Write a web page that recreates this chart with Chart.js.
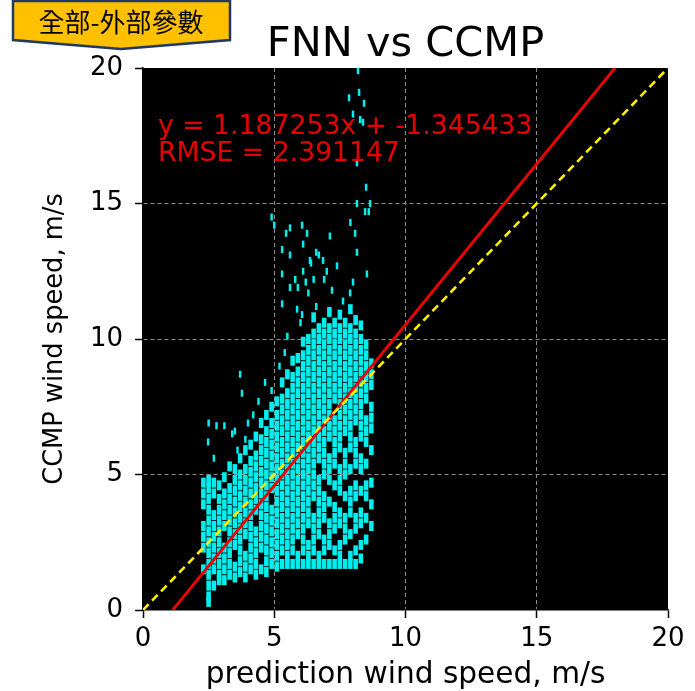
<!DOCTYPE html>
<html>
<head>
<meta charset="utf-8">
<script src="https://cdn.jsdelivr.net/npm/chart.js@4.4.1/dist/chart.umd.min.js"></script>
<style>
  body { margin: 0; background: #fff; }
  #wrap { width: 695px; height: 691px; }
</style>
</head>
<body>
<div id="wrap"><canvas id="scatter-chart" width="695" height="691"></canvas></div>
<script>
// prediction wind speed columns (m/s) and the CCMP values in the dense core of each column
const xCols = [2.3, 2.5, 2.7, 2.9, 3.1, 3.3, 3.5, 3.7, 3.9, 4.1, 4.3, 4.5, 4.7, 4.9, 5.1, 5.3, 5.5,
  5.7, 5.9, 6.1, 6.3, 6.5, 6.7, 6.9, 7.1, 7.3, 7.5, 7.7, 7.9, 8.1, 8.3, 8.5, 8.7];
const yCols = [
  [1.5,2.3,2.7,3.1,3.9,4.3,4.7],
  [0.3,0.5,0.9,1.3,1.7,2.1,2.5,2.9,3.3,3.7,4.1,4.5,4.8],
  [0.9,1.5,1.9,2.3,2.7,3.1,3.5,4.3,4.7],
  [1.1,1.3,1.7,2.1,2.5,2.9,3.3,3.7,4.1,4.6],
  [1.1,1.5,1.9,2.3,3.1,3.5,3.9,4.3,4.9],
  [1.3,1.7,2.1,2.5,2.9,3.3,3.7,4.1,4.5,5.3],
  [1.2,1.6,2.4,2.8,3.2,3.6,4.0,4.4,4.8,5.2],
  [1.4,1.8,2.2,2.6,3.0,3.4,3.8,4.2,4.6,5.0,5.6],
  [1.2,1.6,2.0,2.8,3.2,3.6,4.0,4.4,4.8,5.2,5.9],
  [1.5,1.9,2.3,2.7,3.1,3.5,3.9,4.3,4.7,5.1,5.5,6.1],
  [1.3,1.7,2.1,2.5,2.9,3.7,4.1,4.5,4.9,5.3,5.7,6.4],
  [1.5,2.3,2.7,3.1,3.5,3.9,4.3,4.7,5.1,5.5,5.9,6.3,6.9],
  [1.4,1.8,2.2,2.6,3.0,3.4,3.8,4.2,4.6,5.0,5.4,5.8,6.2,6.6,7.2],
  [1.7,2.1,2.5,2.9,3.3,3.7,4.5,4.9,5.3,5.7,6.1,6.5,6.9,7.5],
  [1.6,2.0,2.4,2.8,3.2,3.6,4.0,4.4,4.8,5.2,5.6,6.0,6.4,6.8,7.2,7.7],
  [1.7,2.2,2.6,3.0,3.4,3.8,4.2,4.6,5.0,5.4,5.8,6.2,6.6,7.0,7.4,7.8,8.4],
  [1.7,2.0,2.4,2.8,3.2,3.6,4.0,4.4,4.8,5.2,5.6,6.0,6.4,6.8,7.2,7.6,8.0,8.7],
  [1.7,2.2,2.6,3.0,3.4,3.8,4.2,4.6,5.0,5.4,5.8,6.2,6.6,7.0,7.4,7.8,8.2,8.6,9.2],
  [1.7,2.0,2.8,3.2,3.6,4.0,4.4,4.8,5.2,5.6,6.0,6.4,6.8,7.2,7.6,8.0,8.4,8.8,9.3],
  [1.7,2.2,2.6,3.0,3.4,3.8,4.2,4.6,5.0,5.4,5.8,6.2,6.6,7.0,7.4,7.8,8.2,8.6,9.0,9.4,9.9],
  [1.7,2.0,2.4,3.2,3.6,4.0,4.4,4.8,5.2,5.6,6.0,6.4,6.8,7.2,7.6,8.0,8.4,8.8,9.2,9.6,10.0],
  [1.7,2.2,2.6,3.0,3.4,4.2,4.6,5.0,5.4,5.8,6.2,6.6,7.0,7.4,7.8,8.2,8.6,9.0,9.4,9.8,10.2,10.8],
  [1.7,2.0,2.8,3.2,3.6,4.0,4.4,4.8,5.6,6.0,6.4,6.8,7.2,7.6,8.0,8.4,8.8,9.2,9.6,10.0,10.4],
  [1.7,2.2,2.6,3.4,3.8,4.2,5.0,5.4,5.8,6.2,6.6,7.0,7.4,7.8,8.2,8.6,9.0,9.4,9.8,10.2,10.6],
  [1.7,2.4,2.8,3.2,4.0,4.8,5.2,5.6,6.4,6.8,7.2,7.6,8.0,8.4,8.8,9.2,9.6,10.0,10.4,11.0],
  [1.7,2.2,3.0,3.4,3.8,4.6,5.4,5.8,6.2,6.6,7.0,7.8,8.2,8.6,9.0,9.4,9.8,10.2,10.6],
  [1.7,2.0,2.4,3.2,3.6,4.4,4.8,5.2,6.0,6.4,6.8,7.2,7.6,8.0,8.4,8.8,9.2,9.6,10.0,10.4,10.9],
  [1.7,2.6,3.0,3.4,4.2,5.0,5.4,5.8,6.6,7.0,7.4,7.8,8.2,8.6,9.0,9.4,9.8,10.2,10.6],
  [1.7,2.0,2.8,3.6,4.0,4.4,5.2,6.0,6.4,6.8,7.2,7.6,8.0,8.4,8.8,9.2,9.6,10.0,10.4,11.1],
  [1.7,2.2,3.0,3.4,4.2,4.6,5.4,5.8,6.2,7.0,7.4,7.8,8.2,8.6,9.0,9.4,9.8,10.2,10.7],
  [1.9,2.4,3.2,3.6,4.4,5.2,5.6,6.4,6.8,7.2,7.6,8.0,8.4,8.8,9.2,9.6,10.0,10.5],
  [2.6,3.4,4.2,4.6,5.4,6.2,6.6,7.0,7.8,8.2,8.6,9.0,9.4,9.8],
  [3.1,3.9,4.7,5.9,6.7,7.1,7.5,8.3,8.7,9.1]
];

// scattered points outside the core
const outX = [2.48, 2.5, 2.8, 3.1, 3.4, 3.6, 3.9, 2.7, 3.5, 3.7, 3.77, 4.0, 4.2, 4.4, 4.65, 4.9, 4.9, 5.0,
  5.2, 5.4, 5.5, 5.3, 5.3, 5.3, 5.45, 5.6, 5.6, 5.6, 5.8, 5.87, 5.9, 6.0, 6.06, 6.1, 6.1, 6.06, 6.25, 6.3,
  6.2, 6.36, 6.4, 6.5, 6.6, 6.6, 6.7, 6.86, 6.9, 7.0, 7.12, 7.2, 7.39, 7.62, 7.89, 8.0, 7.9, 8.08,
  8.15, 8.15, 8.15, 8.53, 8.65, 8.46, 7.85, 8.0, 8.19, 8.23, 8.27, 8.38, 8.42, 8.5, 8.6];
const outY = [6.2, 6.9, 6.8, 6.8, 6.5, 5.9, 6.3, 5.6, 6.6, 8.7, 8.0, 6.9, 7.2, 7.7, 8.4, 8.1, 14.5, 14.2,
  9.0, 9.5, 10.1, 11.3, 12.4, 13.3, 13.9, 14.1, 13.1, 11.9, 12.2, 11.1, 11.9, 10.6, 14.2, 13.5, 12.5, 10.9, 13.9, 11.7,
  12.1, 12.9, 12.8, 12.2, 13.2, 11.2, 13.1, 12.9, 12.2, 12.5, 13.8, 11.8, 12.7, 11.4, 11.7, 12.1, 14.3, 13.9,
  13.2, 15.0, 16.5, 12.4, 15.0, 14.7, 18.9, 18.3, 19.9, 19.1, 18.1, 18.0, 18.7, 15.6, 14.7];

// regression and 1:1 reference lines
const fitLineX = [1.1332, 17.9788];
const fitLineY = [0, 20];
const oneToOneX = [0, 20];
const oneToOneY = [0, 20];

const tickValues = [0, 5, 10, 15, 20];
const fitText = 'y = 1.187253x + -1.345433';
const rmseText = 'RMSE = 2.391147';

const corePoints = [];
xCols.forEach((x, i) => {
  yCols[i].forEach(y => corePoints.push({ x: x, y: y }));
});
const outPoints = outX.map((x, i) => ({ x: x, y: outY[i] }));

// black plot background, title, fit text and the tag box
const decorations = {
  id: 'decorations',
  beforeDraw(chart) {
    const { ctx, chartArea: a } = chart;
    ctx.save();
    ctx.fillStyle = '#000';
    ctx.fillRect(a.left, a.top, a.right - a.left, a.bottom - a.top);
    ctx.restore();
  },
  afterDraw(chart) {
    const { ctx, chartArea: a } = chart;
    ctx.save();
    ctx.fillStyle = '#000';
    ctx.font = '41.5px "DejaVu Sans"';
    ctx.textAlign = 'center';
    ctx.textBaseline = 'alphabetic';
    ctx.fillText('FNN vs CCMP', (a.left + a.right) / 2, 56);

    ctx.fillStyle = '#e60000';
    ctx.font = '26.7px "DejaVu Sans"';
    ctx.textAlign = 'left';
    ctx.fillText(fitText, 158, 134);
    ctx.fillText(rmseText, 158, 161);

    // tag box
    ctx.beginPath();
    ctx.moveTo(13, 1);
    ctx.lineTo(230, 1);
    ctx.lineTo(230, 40);
    ctx.lineTo(121, 49);
    ctx.lineTo(13, 40);
    ctx.closePath();
    ctx.fillStyle = '#ffc000';
    ctx.fill();
    ctx.lineWidth = 2.5;
    ctx.strokeStyle = '#1f3864';
    ctx.stroke();
    ctx.fillStyle = '#000';
    ctx.font = '26px "Noto Sans CJK TC"';
    ctx.textAlign = 'center';
    ctx.textBaseline = 'middle';
    ctx.fillText('全部-外部參數', 121, 22);
    ctx.restore();
  }
};

const edgeless = ctx => (ctx.tick && (ctx.tick.value === 0 || ctx.tick.value === 20)) ? 'rgba(0,0,0,0)' : '#8c8c8c';

function buildScale(title, titleFont, titlePad, tickPad) {
  return {
    type: 'linear',
    min: 0,
    max: 20,
    afterBuildTicks: s => { s.ticks = tickValues.map(v => ({ value: v })); },
    grid: {
      color: edgeless,
      lineWidth: 1,
      drawTicks: true,
      tickLength: 8,
      tickColor: '#000',
      tickWidth: 1.5,
      tickBorderDash: []
    },
    border: { display: true, color: '#000', width: 1.5, dash: [4, 3] },
    ticks: {
      color: '#000',
      font: { family: 'DejaVu Sans', size: 26 },
      padding: tickPad,
      maxRotation: 0
    },
    title: {
      display: true,
      text: title,
      color: '#000',
      font: { family: 'DejaVu Sans', size: titleFont },
      padding: titlePad
    }
  };
}

const xScale = buildScale('prediction wind speed, m/s', 29.6, { top: 0, bottom: -2 }, 6);
xScale.afterFit = s => { s.height = 81; };
const yScale = buildScale('CCMP wind speed, m/s', 25.7, { top: 40, bottom: 0 }, 12);
yScale.afterFit = s => { s.width = 143; };

new Chart(document.getElementById('scatter-chart'), {
  type: 'scatter',
  data: {
    datasets: [
      {
        type: 'line',
        label: '1:1',
        data: oneToOneX.map((x, i) => ({ x: x, y: oneToOneY[i] })),
        borderColor: '#ffee00',
        borderWidth: 2.6,
        borderDash: [8, 5],
        pointRadius: 0,
        order: 0
      },
      {
        type: 'line',
        label: 'fit',
        data: fitLineX.map((x, i) => ({ x: x, y: fitLineY[i] })),
        borderColor: '#ee0000',
        borderWidth: 2.8,
        pointRadius: 0,
        order: 1
      },
      {
        label: 'core',
        data: corePoints,
        pointStyle: 'line',
        rotation: 90,
        radius: 5,
        borderWidth: 4.6,
        borderColor: '#00eeee',
        backgroundColor: '#00eeee',
        order: 2
      },
      {
        label: 'scattered',
        data: outPoints,
        pointStyle: 'line',
        rotation: 90,
        radius: 3.5,
        borderWidth: 2.5,
        borderColor: '#00eeee',
        backgroundColor: '#00eeee',
        order: 3
      }
    ]
  },
  options: {
    responsive: false,
    animation: false,
    layout: { padding: { top: 68, right: 27, left: 0, bottom: 0 } },
    plugins: {
      legend: { display: false },
      tooltip: { enabled: false }
    },
    scales: { x: xScale, y: yScale }
  },
  plugins: [decorations]
});
</script>
</body>
</html>
